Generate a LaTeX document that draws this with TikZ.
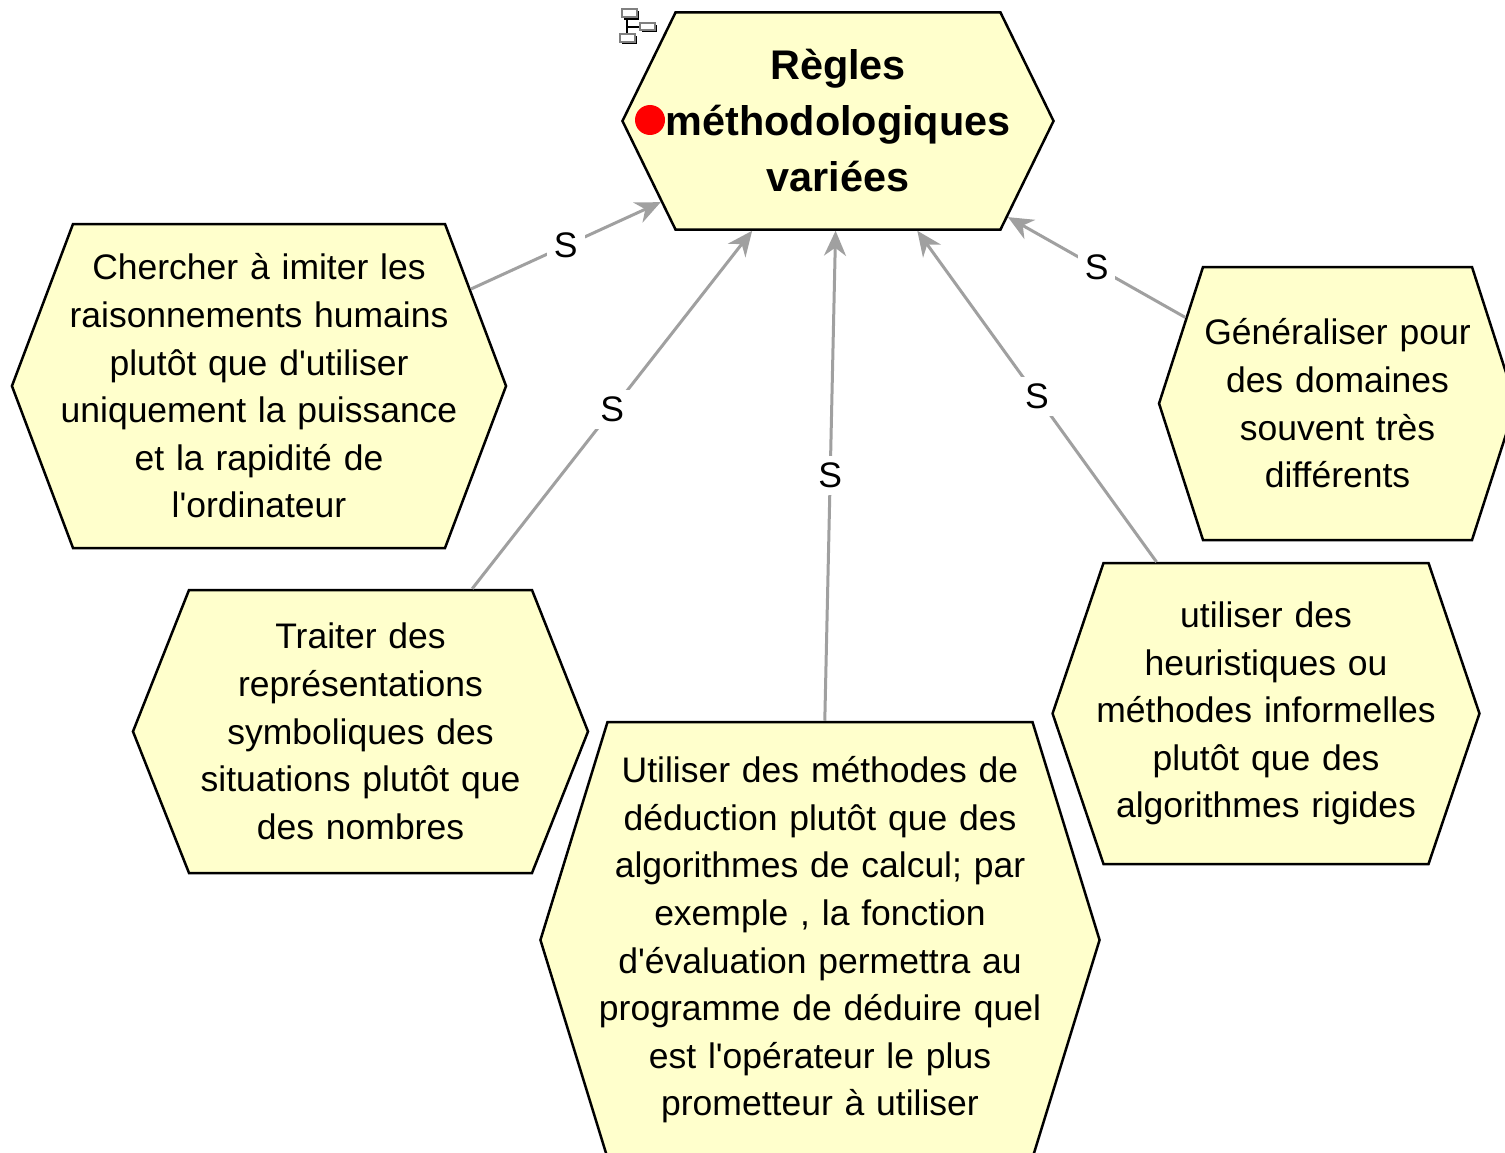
\documentclass[tikz,border=0pt]{standalone}
\usepackage{fontspec}
\setmainfont{Liberation Sans}[Ligatures=TeXOff]
\usetikzlibrary{arrows.meta}
\usetikzlibrary{shapes.symbols}
\definecolor{hexfill}{RGB}{255,255,204}
\definecolor{linkgray}{RGB}{160,160,160}

\begin{document}
\begin{tikzpicture}[x=1pt,y=-1pt,
	hexa/.style={shape=signal, signal to=east and west, draw=black, line width=2.5pt, fill=hexfill, align=center, inner ysep=0pt, font=\fontsize{35.5}{47.6}\selectfont},
	link/.style={draw=linkgray, line width=3pt, -{Stealth[length=25pt,width=22pt,inset=8pt]}},
	lab/.style={midway, fill=white, inner sep=7pt, font=\fontsize{35.5}{40}\selectfont},
	iconbox/.style={draw=gray, fill=white, line width=1.5pt}]
	% page
	\fill[white] (0,0) rectangle (1505,1153);
	\useasboundingbox (0,0) rectangle (1505,1153);
	% draw hexagons
	\node[hexa, text width=360pt, inner xsep=-17.5pt, minimum height=217pt, signal pointer angle=127.9, font=\bfseries\fontsize{41.4}{56}\selectfont] (goal) at (838,121) {Règles\\méthodologiques\\variées};
	\node[hexa, text width=400pt, inner xsep=-14pt, minimum height=324pt, signal pointer angle=138.7] (imiter) at (259,386) {Chercher à imiter les\\raisonnements humains\\plutôt que d'utiliser\\uniquement la puissance\\et la rapidité de\\l'ordinateur};
	\node[hexa, text width=360pt, inner xsep=-8.5pt, minimum height=283pt, signal pointer angle=136.8] (symbol) at (360.5,731.5) {Traiter des\\représentations\\symboliques des\\situations plutôt que\\des nombres};
	\node[hexa, text width=450pt, inner xsep=-12.5pt, minimum height=436pt, signal pointer angle=145.8] (deduction) at (820,940) {Utiliser des méthodes de\\déduction plutôt que des\\algorithmes de calcul; par\\exemple , la fonction\\d'évaluation permettra au\\programme de déduire quel\\est l'opérateur le plus\\prometteur à utiliser};
	\node[hexa, text width=350pt, inner xsep=-12.5pt, minimum height=301pt, signal pointer angle=142.6] (heuristic) at (1266,713.5) {utiliser des\\heuristiques ou\\méthodes informelles\\plutôt que des\\algorithmes rigides};
	\node[hexa, text width=280pt, inner xsep=-5.5pt, minimum height=273pt, signal pointer angle=144.3] (general) at (1337.5,403.5) {Généraliser pour\\des domaines\\souvent très\\différents};
	% red dot
	\fill[red] (650,120) circle (15);
	% small icon
	\draw[black, line width=2pt] (627,18) -- (627,36) (627,27) -- (641,27);
	\fill[black] (624,11) rectangle (639,20);
	\draw[iconbox] (622,9) rectangle (637,17);
	\fill[black] (642,25) rectangle (657,32);
	\draw[iconbox] (640,23) rectangle (655,30);
	\fill[black] (622,36) rectangle (637,44);
	\draw[iconbox] (620,34) rectangle (635,42);
	% draw connectors
	\draw[link] (imiter) -- (goal) node[lab] {S};
	\draw[link] (symbol) -- (goal) node[lab] {S};
	\draw[link] (deduction) -- (goal) node[lab] {S};
	\draw[link] (heuristic) -- (goal) node[lab] {S};
	\draw[link] (general) -- (goal) node[lab] {S};
\end{tikzpicture}
\end{document}
